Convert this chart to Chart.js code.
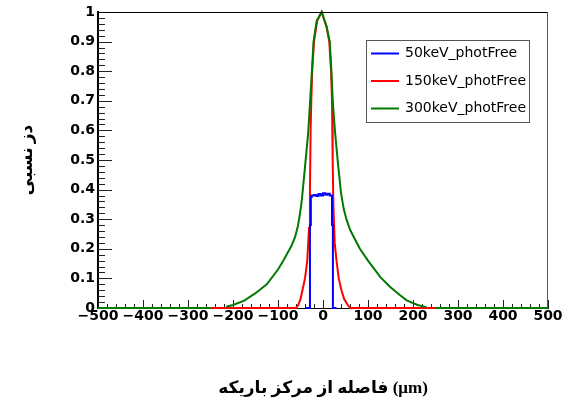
<!DOCTYPE html>
<html>
<head>
<meta charset="utf-8">
<script src="https://cdn.jsdelivr.net/npm/chart.js@4/dist/chart.umd.min.js"></script>
<style>
  body { margin: 0; background: #fff; }
</style>
</head>
<body>
<canvas id="profileChart" width="569" height="407"></canvas>
<script>
// series (x in µm, y relative dose)
const seriesLabels = ['50keV_photFree', '150keV_photFree', '300keV_photFree'];
const seriesColors = ['#0000ff', '#ff0000', '#007a00'];

// blue: histogram bins, value holds from x[i] to x[i+1]
const blueX = [-40, -29, -27, -25, -20, -15, -10, -5, 0, 5, 10, 15, 20, 22, 30];
const blueY = [0, 0.28, 0.375, 0.38, 0.382, 0.378, 0.385, 0.38, 0.388, 0.383, 0.386, 0.38, 0.28, 0, 0];

const redX = [-250, -60, -55, -50, -45, -40, -35, -31, -29, -27.5, -26, -24, -20, -13, -3, 8, 14, 18, 20, 21.5, 23, 26, 30, 35, 41, 47, 55, 60, 250];
const redY = [0, 0, 0.01, 0.03, 0.065, 0.1, 0.16, 0.27, 0.4, 0.6, 0.7, 0.8, 0.9, 0.97, 1.0, 0.95, 0.9, 0.8, 0.7, 0.5, 0.35, 0.22, 0.16, 0.1, 0.06, 0.03, 0.01, 0, 0];

const greenX = [-500, -250, -240, -215, -200, -175, -150, -125, -100, -90, -81, -70, -62, -56, -51, -47, -40, -33, -29, -25, -21, -14, -3, 8, 15, 19, 22, 27, 34, 40, 46, 52, 60, 70, 82, 100, 127, 150, 170, 186, 210, 230, 240, 250, 500];
const greenY = [0, 0, null, 0.004, 0.01, 0.025, 0.05, 0.08, 0.13, 0.155, 0.18, 0.21, 0.24, 0.275, 0.32, 0.365, 0.477, 0.59, 0.69, 0.79, 0.9, 0.97, 1.0, 0.95, 0.9, 0.79, 0.69, 0.59, 0.477, 0.39, 0.335, 0.3, 0.265, 0.235, 0.2, 0.16, 0.105, 0.07, 0.045, 0.026, 0.01, 0.003, null, 0, 0];

const xMin = -500, xMax = 500, xStep = 100, xMinor = 20;
const yMin = 0, yMax = 1, yStep = 0.1, yMinor = 0.02;

const toPoints = (xs, ys) => xs.map((x, i) => ({ x: x, y: ys[i] }));

const tickFont = { family: 'DejaVu Sans', weight: 'bold', size: 14 };
const titleFont = { family: '"Liberation Serif", "DejaVu Sans"', weight: 'bold', size: 17 };

// ROOT-like frame: inward tick marks, thin top/right border, boxed legend
const rootFrame = {
  id: 'rootFrame',
  beforeDatasetsDraw(chart) {
    const { ctx, chartArea: a, scales: { x, y } } = chart;
    ctx.save();
    ctx.strokeStyle = '#222';
    ctx.lineWidth = 1;
    ctx.beginPath();
    for (let v = xMin; v <= xMax; v += xMinor) {
      const px = Math.round(x.getPixelForValue(v)) + 0.5;
      const len = v % xStep === 0 ? 8 : 4;
      ctx.moveTo(px, a.bottom);
      ctx.lineTo(px, a.bottom - len);
    }
    const n = Math.round((yMax - yMin) / yMinor);
    for (let i = 0; i <= n; i++) {
      const py = Math.round(y.getPixelForValue(yMin + i * yMinor)) + 0.5;
      const len = i % 5 === 0 ? 14 : 7;
      ctx.moveTo(a.left, py);
      ctx.lineTo(a.left + len, py);
    }
    ctx.stroke();
    ctx.restore();
  },
  afterDatasetsDraw(chart) {
    const { ctx, chartArea: a } = chart;
    ctx.save();
    ctx.lineWidth = 1;
    ctx.strokeStyle = '#000';
    ctx.beginPath();
    ctx.moveTo(a.left, Math.round(a.top) + 0.5);
    ctx.lineTo(a.right, Math.round(a.top) + 0.5);
    ctx.stroke();
    ctx.strokeStyle = '#555';
    ctx.beginPath();
    ctx.moveTo(Math.round(a.right) - 0.5, a.top);
    ctx.lineTo(Math.round(a.right) - 0.5, a.bottom);
    ctx.stroke();

    // legend
    ctx.fillStyle = '#fff';
    ctx.fillRect(366, 40, 163, 83);
    ctx.strokeStyle = '#555';
    ctx.strokeRect(366.5, 40.5, 163, 82);
    ctx.font = '14px "DejaVu Sans"';
    ctx.textBaseline = 'middle';
    ctx.fillStyle = '#000';
    chart.data.datasets.forEach((ds, i) => {
      const ly = 53.5 + i * 27.5;
      ctx.strokeStyle = ds.borderColor;
      ctx.lineWidth = 2;
      ctx.beginPath();
      ctx.moveTo(371, ly);
      ctx.lineTo(399, ly);
      ctx.stroke();
      ctx.fillText(ds.label, 405, ly);
    });
    ctx.restore();
  }
};

new Chart(document.getElementById('profileChart'), {
  type: 'line',
  data: {
    datasets: [
      { label: seriesLabels[0], data: toPoints(blueX, blueY), borderColor: seriesColors[0], stepped: true, order: 0 },
      { label: seriesLabels[1], data: toPoints(redX, redY), borderColor: seriesColors[1], order: 2 },
      { label: seriesLabels[2], data: toPoints(greenX, greenY), borderColor: seriesColors[2], order: 1 }
    ].map(ds => Object.assign({ borderWidth: 2, pointRadius: 0, tension: 0, fill: false, spanGaps: false, clip: false }, ds))
  },
  options: {
    responsive: false,
    animation: false,
    layout: { padding: { top: 12, right: 21, bottom: 0, left: 0 } },
    plugins: {
      legend: { display: false },
      tooltip: { enabled: false }
    },
    scales: {
      x: {
        type: 'linear',
        min: xMin,
        max: xMax,
        afterFit: s => { s.height = 99; },
        grid: { display: false, drawTicks: false },
        border: { display: true, color: '#000', width: 1 },
        ticks: {
          stepSize: xStep,
          autoSkip: false,
          maxRotation: 0,
          padding: 0,
          color: '#000',
          font: tickFont,
          callback: v => String(v).replace('-', '\u2212')
        },
        title: {
          display: true,
          text: 'فاصله از مرکز باریکه (μm)',
          color: '#000',
          font: titleFont,
          padding: { top: 0, bottom: 8 }
        }
      },
      y: {
        min: yMin,
        max: yMax,
        afterFit: s => { s.width = 98; },
        grid: { display: false, drawTicks: false },
        border: { display: true, color: '#000', width: 2 },
        ticks: {
          stepSize: yStep,
          padding: 3,
          color: '#000',
          font: tickFont,
          callback: v => String(Number(v.toFixed(1)))
        },
        title: {
          display: true,
          text: 'دز نسبی',
          color: '#000',
          font: titleFont,
          padding: { top: 17, bottom: 0 }
        }
      }
    }
  },
  plugins: [rootFrame]
});
</script>
</body>
</html>
